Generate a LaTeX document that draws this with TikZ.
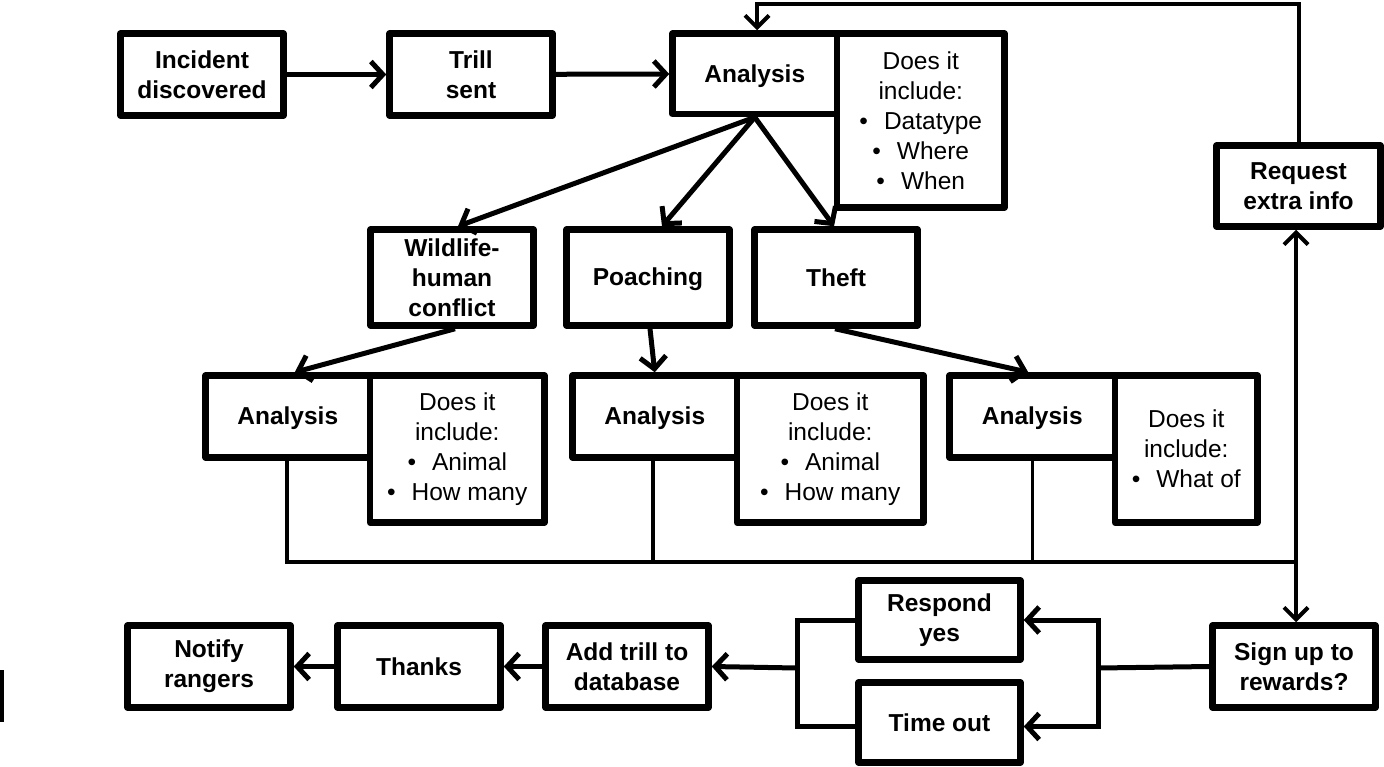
\documentclass[tikz,border=0pt]{standalone}
\usepackage{fontspec}
\setmainfont{Liberation Sans}
\usetikzlibrary{arrows.meta,calc}
\newcommand\bul{\textbullet\hspace{16pt}}
\newcommand\capc[1]{\vphantom{A}\smash{#1}}
\begin{document}
\begin{tikzpicture}[x=1pt,y=-1pt,
  box/.style={draw, line width=6.5pt, line join=round, align=center, inner sep=0pt,
    font=\bfseries\fontsize{24.5}{30}\selectfont, minimum width=163pt, minimum height=82pt},
  info/.style={box, font=\fontsize{24.5}{30}\selectfont},
  conn/.style={line width=5pt},
  arr/.style={conn, -{Straight Barb[length=12pt,width=26pt]}},
  dbl/.style={line width=4pt, {Straight Barb[length=12pt,width=24pt]}-{Straight Barb[length=12pt,width=24pt]}},
  bus/.style={line width=3.5pt}]
\useasboundingbox (0,0) rectangle (1384,766);
\fill (0,670) rectangle (4,722);
% top row
\node[box] (inc) at (202,74.5) {Incident\\discovered};
\node[box] (trill) at (471,74.5) {Trill\\sent};
\node[box, minimum width=164.5pt, minimum height=80.5pt] (an0) at (754.75,73.75) {\capc{Analysis}};
\node[info, minimum width=167.5pt, minimum height=174pt] (info0) at (920.75,120.5)
  {Does it\\include:\\\bul Datatype\\\bul Where\\\bul When};
% categories
\node[box, minimum height=96pt] (wild) at (452,277.5) {Wildlife-\\human\\conflict};
\node[box, minimum height=96pt] (poach) at (648,277.5) {\capc{Poaching}};
\node[box, minimum height=96pt] (theft) at (836,277.5) {Theft};
\node[box, minimum width=164pt, minimum height=81pt] (req) at (1298.5,186) {Request\\extra info};
% second analyses
\node[box, minimum width=164.5pt] (anL) at (287.75,416.5) {\capc{Analysis}};
\node[info, minimum width=174.5pt, minimum height=147pt] (infoL) at (457.25,449)
  {Does it\\include:\\\bul Animal\\\bul How many};
\node[box, minimum width=164.5pt] (anM) at (654.75,416.5) {\capc{Analysis}};
\node[info, minimum width=186.5pt, minimum height=147pt] (infoM) at (830.25,449)
  {Does it\\include:\\\bul Animal\\\bul How many};
\node[box, minimum width=165.5pt] (anR) at (1032.25,416.5) {\capc{Analysis}};
\node[info, minimum width=142.5pt, minimum height=147pt] (infoR) at (1186.25,449)
  {Does it\\include:\\\bul What of};
% bottom row
\node[box] (sign) at (1294,666.5) {Sign up to\\rewards?};
\node[box, minimum width=162pt, minimum height=79pt] (resp) at (939.5,620) {Respond\\yes};
\node[box, minimum width=162pt, minimum height=80pt] (tout) at (939.5,722.5) {Time out};
\node[box] (add) at (627,666.5) {Add trill to\\database};
\node[box] (thanks) at (419,666.5) {Thanks};
\node[box] (notify) at (209,666.5) {Notify\\rangers};
% connectors
\draw[arr] (inc) -- (trill);
\draw[arr] (trill) -- (an0);
\coordinate (topL) at (757,4);
\draw[line width=4pt, -{Straight Barb[length=12pt,width=24pt]}] (req.north) |- (topL) -- (topL |- an0.north);
\draw[arr] (an0.south) -- ([xshift=6pt]wild.north);
\draw[arr] (an0.south) -- ([xshift=14pt]poach.north);
\draw[arr] (an0.south) -- ([xshift=-2pt]theft.north);
\draw[arr] ([xshift=3pt]wild.south) -- ([xshift=7pt]anL.north);
\draw[arr] ([xshift=2pt]poach.south) -- (anM.north);
\draw[arr] ([xshift=-1pt]theft.south) -- ([xshift=-4pt]anR.north);
\coordinate (busR) at (1296,562);
\draw[bus] ([xshift=-1pt]anL.south) |- (busR);
\draw[bus] ([xshift=-2pt]anM.south) -- ([xshift=-2pt]anM.south |- busR);
\draw[bus] (anR.south) -- (anR.south |- busR);
\draw[dbl] ([xshift=-2.5pt]req.south) -- ([xshift=2pt]sign.north);
\coordinate (forkR) at (1098,668);
\coordinate (forkL) at (797,668);
\draw[conn] (sign.west) -- (forkR);
\draw[arr] (forkR) |- (resp.east);
\draw[arr] (forkR) |- ([yshift=-4pt]tout.east);
\draw[conn] (resp.west) -| (forkL) |- ([yshift=-4pt]tout.west);
\draw[arr] (forkL) -- (add.east);
\draw[arr] (add) -- (thanks);
\draw[arr] (thanks) -- (notify);
\end{tikzpicture}
\end{document}
